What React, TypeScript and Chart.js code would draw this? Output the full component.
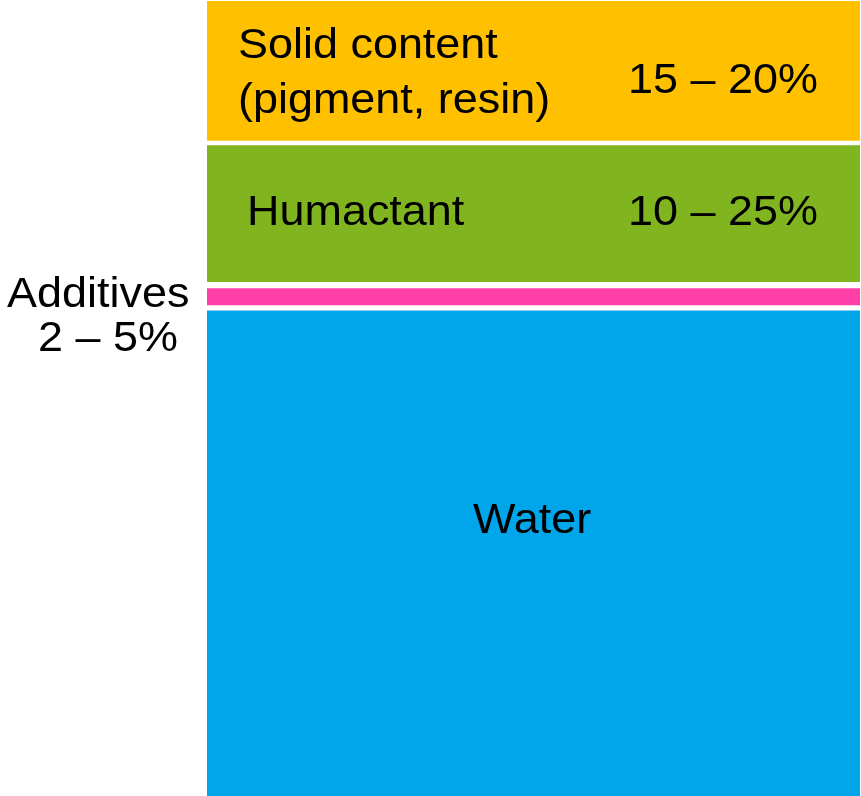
import React, { useEffect, useRef } from "react";
import { Chart, registerables } from "chart.js";

Chart.register(...registerables);

const categories = ["Ink"];
const segmentNames = ["Water", "Additives", "Humactant", "Solid content"];
const segmentValues = [61.4, 2.8, 18.0, 17.8];
const segmentColors = ["#00A6E9", "#FF3FA7", "#80B520", "#FFC000"];
const rangeLabels = ["", "2 – 5%", "10 – 25%", "15 – 20%"];

const borderWidths = [
  { top: 3, bottom: 0, left: 0, right: 0 },
  { top: 3, bottom: 3, left: 0, right: 0 },
  { top: 3, bottom: 4, left: 0, right: 0 },
  { top: 0, bottom: 2, left: 0, right: 0 },
];

const FONT = '42px "Liberation Sans", Arial, sans-serif';
const SX = 1.07;

function drawText(ctx: CanvasRenderingContext2D, text: string, x: number, y: number) {
  ctx.save();
  ctx.translate(x, y);
  ctx.scale(SX, 1);
  ctx.fillText(text, 0, 0);
  ctx.restore();
}

const labelPlugin = {
  id: "segmentLabels",
  afterDatasetsDraw(chart: any) {
    const ctx: CanvasRenderingContext2D = chart.ctx;
    const water = chart.getDatasetMeta(0).data[0];
    const add = chart.getDatasetMeta(1).data[0];
    const hum = chart.getDatasetMeta(2).data[0];
    const solid = chart.getDatasetMeta(3).data[0];
    const left = water.x - water.width / 2;
    ctx.save();
    ctx.font = FONT;
    ctx.fillStyle = "#000000";
    ctx.textAlign = "left";
    ctx.textBaseline = "alphabetic";
    // Solid content
    drawText(ctx, "Solid content", left + 31, solid.y + 57);
    drawText(ctx, "(pigment, resin)", left + 31, solid.y + 112);
    drawText(ctx, rangeLabels[3], left + 421, solid.y + 92);
    // Humactant
    drawText(ctx, segmentNames[2], left + 40, hum.y + 82);
    drawText(ctx, rangeLabels[2], left + 421, hum.y + 82);
    // Water
    drawText(ctx, segmentNames[0], left + 266, water.y + 225);
    // Additives (outside left)
    drawText(ctx, segmentNames[1], left - 200, add.y + 21);
    drawText(ctx, rangeLabels[1], left - 169, add.y + 65);
    ctx.restore();
  },
};

export default function App() {
  const ref = useRef<HTMLCanvasElement | null>(null);
  useEffect(() => {
    document.body.style.margin = "0";
    const chart = new Chart(ref.current as HTMLCanvasElement, {
      type: "bar",
      data: {
        labels: categories,
        datasets: segmentNames.map((name, i) => ({
          label: name,
          data: [segmentValues[i]],
          backgroundColor: segmentColors[i],
          borderColor: "#FFFFFF",
          borderWidth: borderWidths[i] as any,
          borderSkipped: false as any,
          barPercentage: 1,
          categoryPercentage: 1,
        })),
      },
      options: {
        animation: false,
        responsive: true,
        maintainAspectRatio: false,
        layout: { padding: { left: 207, right: 1, top: 1, bottom: 0 } },
        plugins: { legend: { display: false }, tooltip: { enabled: false } },
        scales: {
          x: { stacked: true, display: false },
          y: { stacked: true, display: false, min: 0, max: 100 },
        },
      },
      plugins: [labelPlugin],
    });
    return () => chart.destroy();
  }, []);
  return (
    <div style={{ position: "absolute", left: 0, top: 0, width: 861, height: 796 }}>
      <canvas ref={ref} />
    </div>
  );
}
